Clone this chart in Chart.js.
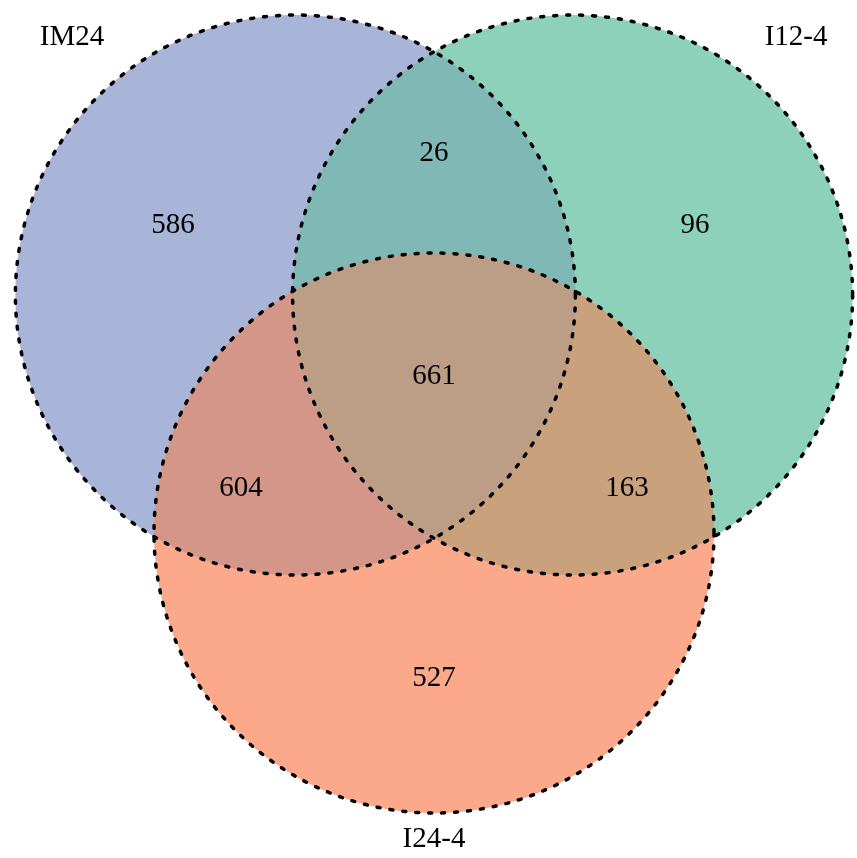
<!DOCTYPE html>
<html lang="en">
<head>
    <meta charset="UTF-8">
    <title>Venn IM24 / I12-4 / I24-4</title>
    <script src="https://cdn.jsdelivr.net/npm/chart.js@4.4.1/dist/chart.umd.min.js"></script>
    <style>
        html, body { margin: 0; padding: 0; background: #fff; }
        canvas { display: block; }
    </style>
</head>
<body>
    <canvas id="venn" width="857" height="858"></canvas>

    <script>
        // sets (circle centres in units of the circle radius)
        const setNames = ['IM24', 'I12-4', 'I24-4'];
        const centerX = [-0.495, 0.495, 0];
        const centerY = [0.425, 0.425, -0.425];
        const circleR = 1;
        const setColors = ['#a8b4d8', '#8dd1ba', '#fba98a'];

        // region counts and where they are written
        const regionCounts = [586, 96, 527, 26, 604, 163, 661];
        const regionSets = [[0], [1], [2], [0, 1], [0, 2], [1, 2], [0, 1, 2]];
        const regionX = [-0.932, 0.932, 0, 0, -0.689, 0.689, 0];
        const regionY = [0.675, 0.675, -0.946, 0.929, -0.264, -0.264, 0.136];
        const overlapColors = [null, null, null, '#7fb8b4', '#d49689', '#c9a27d', '#bb9e85'];

        // set name labels
        const nameX = [-1.293, 1.293, 0];
        const nameY = [1.345, 1.345, -1.521];

        // circle radius in pixels, from the x scale
        function radiusPx(chart) {
            const s = chart.scales.x;
            const v = s ? s.getPixelForValue(circleR) - s.getPixelForValue(0) : 0;
            return isFinite(v) && v > 0 ? v : 0;
        }

        function makeCircles() {
            return centerX.map((x, i) => ({ x: x, y: centerY[i] }));
        }

        const vennPlugin = {
            id: 'vennPlugin',
            afterDatasetsDraw(chart) {
                const ctx = chart.ctx;
                const xs = chart.scales.x, ys = chart.scales.y;
                const rpx = radiusPx(chart);
                const circlePath = (i) => {
                    ctx.beginPath();
                    ctx.arc(xs.getPixelForValue(centerX[i]), ys.getPixelForValue(centerY[i]), rpx, 0, Math.PI * 2);
                };

                // overlap fills, painted over the single-set bubbles
                regionSets.forEach((sets, k) => {
                    if (sets.length < 2) return;
                    ctx.save();
                    sets.forEach(i => { circlePath(i); ctx.clip(); });
                    ctx.fillStyle = overlapColors[k];
                    ctx.fillRect(0, 0, chart.width, chart.height);
                    ctx.restore();
                });

                // dotted outlines
                ctx.save();
                ctx.strokeStyle = '#000';
                ctx.lineWidth = 3.5;
                ctx.lineCap = 'round';
                ctx.setLineDash([3, 10]);
                setNames.forEach((n, i) => { circlePath(i); ctx.stroke(); });
                ctx.restore();

                // texts
                ctx.save();
                ctx.fillStyle = '#000';
                ctx.textAlign = 'center';
                ctx.textBaseline = 'middle';
                ctx.font = '29px "Liberation Serif", "DejaVu Serif", serif';
                regionCounts.forEach((c, k) => {
                    ctx.fillText(String(c), xs.getPixelForValue(regionX[k]), ys.getPixelForValue(regionY[k]));
                });
                setNames.forEach((n, i) => {
                    ctx.fillText(n, xs.getPixelForValue(nameX[i]), ys.getPixelForValue(nameY[i]));
                });
                ctx.restore();
            }
        };

        const chart = new Chart(document.getElementById('venn'), {
            type: 'bubble',
            data: {
                datasets: [{
                    data: makeCircles(),
                    backgroundColor: setColors,
                    borderWidth: 0,
                    hoverBorderWidth: 0,
                    clip: false,
                    radius: (c) => radiusPx(c.chart)
                }]
            },
            options: {
                responsive: false,
                animation: false,
                events: [],
                layout: { padding: 0, autoPadding: false },
                plugins: { legend: { display: false }, tooltip: { enabled: false } },
                scales: {
                    x: { type: 'linear', min: -1.55, max: 1.5107, display: false },
                    y: { type: 'linear', min: -1.5857, max: 1.4786, display: false }
                }
            },
            plugins: [vennPlugin]
        });

        // bubble radius is read when the data is parsed, so parse again once the scales exist
        chart.data.datasets[0].data = makeCircles();
        chart.update();
    </script>
</body>
</html>
